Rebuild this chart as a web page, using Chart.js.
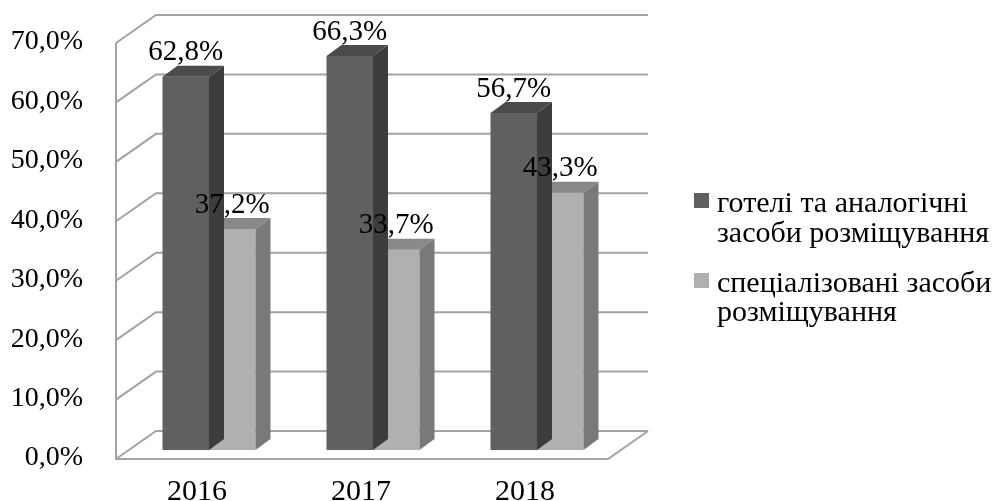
<!DOCTYPE html>
<html>
<head>
<meta charset="utf-8">
<script src="https://cdn.jsdelivr.net/npm/chart.js@4.4.0/dist/chart.umd.min.js"></script>
<style>html,body{margin:0;padding:0;background:#fff}</style>
</head>
<body>
<canvas id="mycanvas" width="999" height="501"></canvas>
<script>
// data
var years = ['2016', '2017', '2018'];
var hotels = [62.8, 66.3, 56.7];
var special = [37.2, 33.7, 43.3];
var seriesNames = ['готелі та аналогічні засоби розміщування', 'спеціалізовані засоби розміщування'];
var legendLines = [['готелі та аналогічні', 'засоби розміщування'], ['спеціалізовані засоби', 'розміщування']];
var yTicks = [0, 10, 20, 30, 40, 50, 60, 70];

var frontColors = ['#606060', '#b0b0b0'];
var topColors = ['#4b4b4b', '#898989'];
var sideColors = ['#3d3d3d', '#797979'];
var FONT = '"Liberation Serif", "Times New Roman", serif';

function pct(v) {
	return v.toFixed(1).replace('.', ',') + '%';
}

var frontOff = {x: -11, y: 9};
var backOff = {x: 29, y: -19};
var depth = {x: 15, y: -11};

var box3d = {
	id: 'box3d',
	beforeDatasetsDraw: function(chart) {
		var c = chart.ctx, a = chart.chartArea, ys = chart.scales.y;
		var fl = a.left + frontOff.x, bl = a.left + backOff.x;
		var br = a.right + backOff.x, fr = a.right + frontOff.x;
		var y0 = ys.getPixelForValue(0), yTop = ys.getPixelForValue(70);
		c.save();
		c.strokeStyle = '#a3a3a3';
		c.lineWidth = 2;
		for (var i in yTicks) {
			var y = ys.getPixelForValue(yTicks[i]);
			c.beginPath();
			c.moveTo(fl, y + frontOff.y);
			c.lineTo(bl, y + backOff.y);
			c.lineTo(br, y + backOff.y);
			c.stroke();
		}
		c.beginPath();
		c.moveTo(fl, yTop + frontOff.y);
		c.lineTo(fl, y0 + frontOff.y);
		c.lineTo(fr, y0 + frontOff.y);
		c.lineTo(br, y0 + backOff.y);
		c.stroke();
		c.restore();
	},
	afterDatasetDraw: function(chart, args) {
		var c = chart.ctx;
		var k = args.index;
		c.save();
		chart.getDatasetMeta(k).data.forEach(function(bar) {
			var p = bar.getProps(['x', 'y', 'base', 'width'], true);
			var l = p.x - p.width / 2, r = p.x + p.width / 2;
			// top
			c.fillStyle = topColors[k];
			c.beginPath();
			c.moveTo(l, p.y);
			c.lineTo(r, p.y);
			c.lineTo(r + depth.x, p.y + depth.y);
			c.lineTo(l + depth.x, p.y + depth.y);
			c.closePath();
			c.fill();
			// side
			c.fillStyle = sideColors[k];
			c.beginPath();
			c.moveTo(r, p.y);
			c.lineTo(r + depth.x, p.y + depth.y);
			c.lineTo(r + depth.x, p.base + depth.y);
			c.lineTo(r, p.base);
			c.closePath();
			c.fill();
		});
		c.restore();
	},
	afterDatasetsDraw: function(chart) {
		var c = chart.ctx;
		c.save();
		c.fillStyle = '#000';
		c.font = '29px ' + FONT;
		c.textAlign = 'center';
		c.textBaseline = 'middle';
		chart.data.datasets.forEach(function(ds, k) {
			chart.getDatasetMeta(k).data.forEach(function(bar, i) {
				c.fillText(pct(ds.data[i]), bar.x, bar.y - 24);
			});
		});
		c.restore();
	},
	afterDraw: function(chart) {
		var c = chart.ctx;
		var rows = [[212, 242], [292, 321]];
		c.save();
		c.font = '30px ' + FONT;
		c.textBaseline = 'alphabetic';
		c.textAlign = 'left';
		legendLines.forEach(function(lines, k) {
			c.fillStyle = frontColors[k];
			c.fillRect(694, rows[k][0] - 19, 15, 15);
			c.fillStyle = '#000';
			lines.forEach(function(t, j) {
				c.fillText(t, 717, rows[k][j]);
			});
		});
		c.restore();
	}
};

var ctx = document.getElementById('mycanvas');
var barGraph = new Chart(ctx, {
	type: 'bar',
	data: {
		labels: years,
		datasets: [
			{label: seriesNames[0], data: hotels, backgroundColor: frontColors[0], barPercentage: 1, categoryPercentage: 0.567},
			{label: seriesNames[1], data: special, backgroundColor: frontColors[1], barPercentage: 1, categoryPercentage: 0.567}
		]
	},
	options: {
		responsive: false,
		animation: false,
		devicePixelRatio: 1,
		layout: {padding: {left: 0, top: 34, right: 380, bottom: 0}},
		plugins: {legend: {display: false}, tooltip: {enabled: false}},
		scales: {
			x: {
				grid: {display: false, drawTicks: false},
				border: {display: false},
				ticks: {color: '#000', font: {family: FONT, size: 30}, padding: 24, labelOffset: -12},
				afterFit: function(s) { s.height = 51; s.paddingLeft = 0; s.paddingRight = 0; }
			},
			y: {
				min: 0,
				max: 70,
				grid: {display: false, drawTicks: false},
				border: {display: false},
				ticks: {
					stepSize: 10,
					color: '#000',
					font: {family: FONT, size: 28},
					padding: 44,
					labelOffset: 8,
					callback: function(v) { return pct(v); }
				},
				afterFit: function(s) { s.width = 127; s.paddingTop = 0; s.paddingBottom = 0; }
			}
		}
	},
	plugins: [box3d]
});
</script>
</body>
</html>
